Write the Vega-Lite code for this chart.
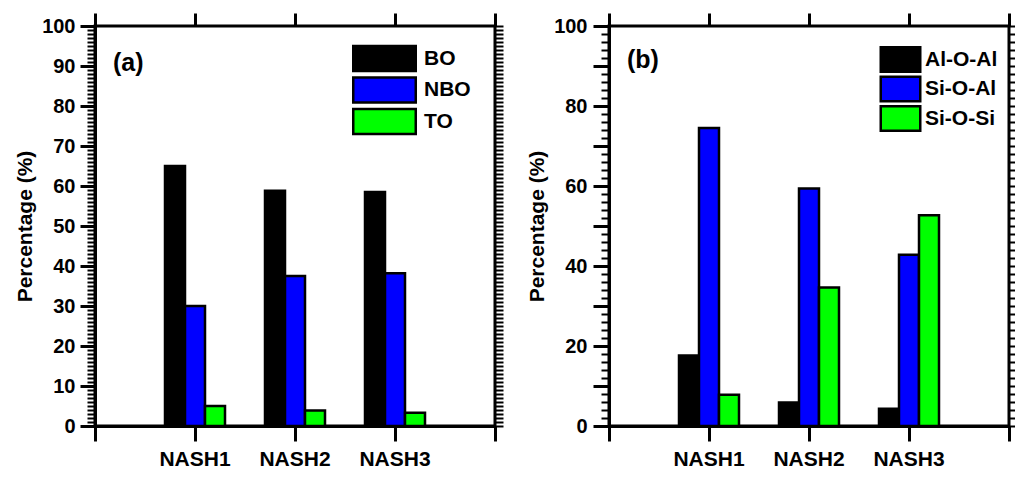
{
  "$schema": "https://vega.github.io/schema/vega-lite/v6.json",
  "padding": {"left": 13, "top": 10, "right": 0, "bottom": 0},
  "datasets": {
    "a": [
      {"sample": "NASH1", "type": "BO", "value": 65.0},
      {"sample": "NASH1", "type": "NBO", "value": 30.0},
      {"sample": "NASH1", "type": "TO", "value": 5.0},
      {"sample": "NASH2", "type": "BO", "value": 58.8},
      {"sample": "NASH2", "type": "NBO", "value": 37.5},
      {"sample": "NASH2", "type": "TO", "value": 3.9},
      {"sample": "NASH3", "type": "BO", "value": 58.5},
      {"sample": "NASH3", "type": "NBO", "value": 38.2},
      {"sample": "NASH3", "type": "TO", "value": 3.3}
    ],
    "b": [
      {"sample": "NASH1", "type": "Al-O-Al", "value": 17.6},
      {"sample": "NASH1", "type": "Si-O-Al", "value": 74.5},
      {"sample": "NASH1", "type": "Si-O-Si", "value": 7.8},
      {"sample": "NASH2", "type": "Al-O-Al", "value": 5.9},
      {"sample": "NASH2", "type": "Si-O-Al", "value": 59.4},
      {"sample": "NASH2", "type": "Si-O-Si", "value": 34.6},
      {"sample": "NASH3", "type": "Al-O-Al", "value": 4.3},
      {"sample": "NASH3", "type": "Si-O-Al", "value": 42.8},
      {"sample": "NASH3", "type": "Si-O-Si", "value": 52.7}
    ]
  },
  "hconcat": [
    {
      "width": 400,
      "height": 400,
      "layer": [
        {
          "data": {"name": "a"},
          "mark": {"type": "bar", "stroke": "black", "strokeWidth": 2.5},
          "encoding": {
            "x": {"field": "sample", "type": "nominal", "scale": {"paddingInner": 0, "paddingOuter": 0.5},
                  "axis": {"title": null, "labelAngle": 0, "labelFontSize": 21, "tickSize": 15, "tickWidth": 3, "labelPadding": 7}},
            "xOffset": {"field": "type", "type": "nominal", "sort": ["BO", "NBO", "TO"], "scale": {"paddingInner": 0, "paddingOuter": 1.32}},
            "y": {"field": "value", "type": "quantitative", "scale": {"domain": [0, 100], "nice": false},
                  "axis": {"title": "Percentage (%)", "values": [0, 10, 20, 30, 40, 50, 60, 70, 80, 90, 100], "tickSize": 15, "tickWidth": 3, "labelPadding": 5, "titlePadding": 6}},
            "color": {"field": "type", "type": "nominal", "sort": ["BO", "NBO", "TO"],
                      "scale": {"domain": ["BO", "NBO", "TO"], "range": ["#000000", "#0000ff", "#00ff00"]},
                      "legend": {"orient": "none", "legendX": 278, "legendY": 21, "title": null, "padding": 0,
                                 "symbolType": "M-3.125,-1.26L3.125,-1.26L3.125,1.26L-3.125,1.26Z", "symbolSize": 400,
                                 "symbolStrokeColor": "black", "symbolStrokeWidth": 2.5,
                                 "labelFont": "Liberation Sans", "labelFontWeight": "bold", "labelFontSize": 21, "labelColor": "black",
                                 "labelOffset": 28, "rowPadding": -5.5}}
          }
        },
        {
          "data": {"values": [{"label": "(a)"}]},
          "mark": {"type": "text", "align": "left", "baseline": "middle", "font": "Liberation Sans", "fontWeight": "bold", "fontSize": 25, "color": "black"},
          "encoding": {
            "text": {"field": "label"},
            "x": {"datum": 0.18, "type": "quantitative", "scale": {"domain": [0, 4], "nice": false},
                  "axis": {"orient": "top", "values": [0, 1, 2, 3, 4], "labels": false, "tickSize": 13, "tickWidth": 3, "domain": false, "title": null}},
            "y": {"datum": 90.75, "type": "quantitative",
                  "axis": {"orient": "left", "tickCount": 100, "labels": false, "tickSize": 8, "tickWidth": 2, "domain": false, "title": null}}
          }
        },
        {
          "data": {"name": "a"},
          "mark": {"type": "rule", "opacity": 0},
          "encoding": {
            "y": {"field": "value", "type": "quantitative",
                  "axis": {"orient": "right", "tickCount": 100, "labels": false, "tickSize": 8, "tickWidth": 2, "domain": false, "title": null}}
          }
        },
        {
          "data": {"name": "a"},
          "mark": {"type": "point", "opacity": 0},
          "encoding": {
            "x": {"datum": 0, "type": "quantitative", "scale": {"domain": [0, 4], "nice": false},
                  "axis": {"orient": "bottom", "values": [0, 4], "labels": false, "tickSize": 15, "tickWidth": 3, "domain": false, "title": null}}
          }
        }
      ],
      "resolve": {"scale": {"x": "independent"}, "axis": {"x": "independent", "y": "independent"}}
    },
    {
      "width": 400,
      "height": 400,
      "layer": [
        {
          "data": {"name": "b"},
          "mark": {"type": "bar", "stroke": "black", "strokeWidth": 2.5},
          "encoding": {
            "x": {"field": "sample", "type": "nominal", "scale": {"paddingInner": 0, "paddingOuter": 0.5},
                  "axis": {"title": null, "labelAngle": 0, "labelFontSize": 21, "tickSize": 15, "tickWidth": 3, "labelPadding": 7}},
            "xOffset": {"field": "type", "type": "nominal", "sort": ["Al-O-Al", "Si-O-Al", "Si-O-Si"], "scale": {"paddingInner": 0, "paddingOuter": 1.32}},
            "y": {"field": "value", "type": "quantitative", "scale": {"domain": [0, 100], "nice": false},
                  "axis": {"title": "Percentage (%)", "values": [0, 10, 20, 30, 40, 50, 60, 70, 80, 90, 100],
                           "labelExpr": "datum.value % 20 == 0 ? datum.label : ''",
                           "tickSize": 16, "tickWidth": 3, "labelPadding": 6, "titlePadding": 6}},
            "color": {"field": "type", "type": "nominal", "sort": ["Al-O-Al", "Si-O-Al", "Si-O-Si"],
                      "scale": {"domain": ["Al-O-Al", "Si-O-Al", "Si-O-Si"], "range": ["#000000", "#0000ff", "#00ff00"]},
                      "legend": {"orient": "none", "legendX": 280, "legendY": 22, "title": null, "padding": 0,
                                 "symbolType": "M-1.975,-1.23L1.975,-1.23L1.975,1.23L-1.975,1.23Z", "symbolSize": 400,
                                 "symbolStrokeColor": "black", "symbolStrokeWidth": 2.5,
                                 "labelFont": "Liberation Sans", "labelFontWeight": "bold", "labelFontSize": 21, "labelColor": "black",
                                 "labelOffset": 13, "rowPadding": -5.5}}
          }
        },
        {
          "data": {"values": [{"label": "(b)"}]},
          "mark": {"type": "text", "align": "left", "baseline": "middle", "font": "Liberation Sans", "fontWeight": "bold", "fontSize": 25, "color": "black"},
          "encoding": {
            "text": {"field": "label"},
            "x": {"datum": 0.18, "type": "quantitative", "scale": {"domain": [0, 4], "nice": false},
                  "axis": {"orient": "top", "values": [0, 1, 2, 3, 4], "labels": false, "tickSize": 13, "tickWidth": 3, "domain": false, "title": null}},
            "y": {"datum": 91.5, "type": "quantitative",
                  "axis": {"orient": "left", "tickCount": 50, "labels": false, "tickSize": 8, "tickWidth": 2, "domain": false, "title": null}}
          }
        },
        {
          "data": {"name": "b"},
          "mark": {"type": "rule", "opacity": 0},
          "encoding": {
            "y": {"field": "value", "type": "quantitative",
                  "axis": {"orient": "right", "tickCount": 50, "labels": false, "tickSize": 8, "tickWidth": 2, "domain": false, "title": null}}
          }
        },
        {
          "data": {"name": "b"},
          "mark": {"type": "point", "opacity": 0},
          "encoding": {
            "x": {"datum": 0, "type": "quantitative", "scale": {"domain": [0, 4], "nice": false},
                  "axis": {"orient": "bottom", "values": [0, 4], "labels": false, "tickSize": 15, "tickWidth": 3, "domain": false, "title": null}}
          }
        }
      ],
      "resolve": {"scale": {"x": "independent"}, "axis": {"x": "independent", "y": "independent"}}
    }
  ],
  "spacing": 19,
  "resolve": {"scale": {"x": "independent", "y": "independent", "color": "independent", "xOffset": "independent"}, "legend": {"color": "independent"}},
  "config": {
    "view": {"stroke": "black", "strokeWidth": 3},
    "axis": {
      "grid": false,
      "labelFont": "Liberation Sans", "labelFontWeight": "bold", "labelFontSize": 20, "labelColor": "black",
      "titleFont": "Liberation Sans", "titleFontWeight": "bold", "titleFontSize": 21, "titleColor": "black",
      "domainColor": "black", "domainWidth": 3, "tickColor": "black"
    }
  }
}
